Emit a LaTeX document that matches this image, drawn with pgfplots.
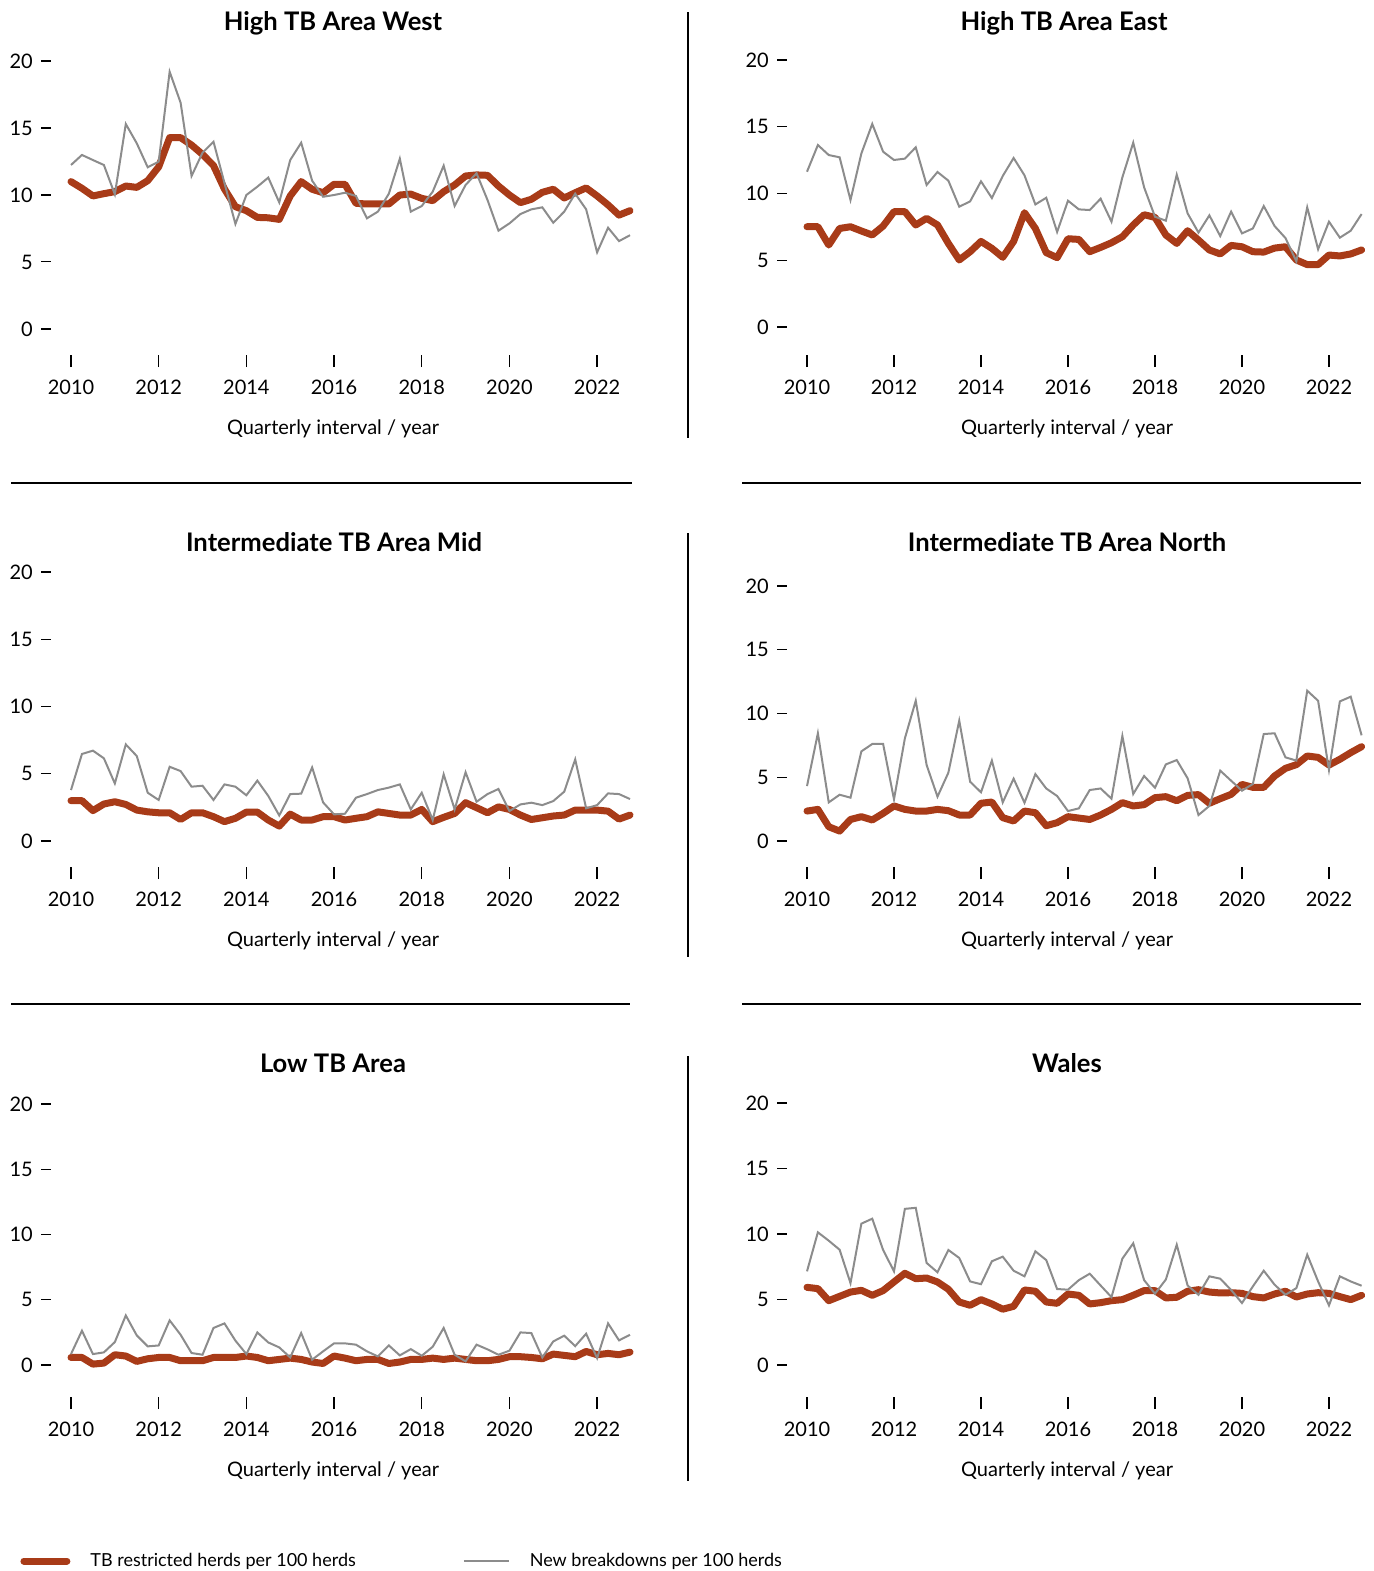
\documentclass[border=0pt]{standalone}
\usepackage{fontspec}
\setmainfont{Lato}
\usepackage{pgfplots}
\usepackage{pgfplotstable}
\pgfplotsset{compat=1.18}
\definecolor{tbred}{HTML}{A83B18}
\definecolor{tbgray}{HTML}{8C8C8C}

\pgfplotstableread{
t r g
2010.00 11.00 12.24
2010.25 10.50 12.99
2010.50 9.93 12.61
2010.75 10.10 12.24
2011.00 10.25 10.05
2011.25 10.67 15.30
2011.50 10.57 13.86
2011.75 11.07 12.07
2012.00 12.10 12.49
2012.25 14.28 19.20
2012.50 14.28 16.89
2012.75 13.73 11.42
2013.00 13.03 13.16
2013.25 12.20 13.98
2013.50 10.45 10.90
2013.75 9.13 7.84
2014.00 8.83 10.00
2014.25 8.33 10.62
2014.50 8.30 11.30
2014.75 8.18 9.45
2015.00 9.93 12.61
2015.25 11.00 13.90
2015.50 10.43 11.07
2015.75 10.17 9.87
2016.00 10.80 10.00
2016.25 10.80 10.17
2016.50 9.38 9.93
2016.75 9.33 8.26
2017.00 9.33 8.76
2017.25 9.33 10.10
2017.50 10.00 12.71
2017.75 10.07 8.76
2018.00 9.75 9.18
2018.25 9.58 10.25
2018.50 10.25 12.19
2018.75 10.75 9.18
2019.00 11.42 10.75
2019.25 11.50 11.62
2019.50 11.47 9.63
2019.75 10.67 7.34
2020.00 10.00 7.88
2020.25 9.43 8.58
2020.50 9.68 8.93
2020.75 10.20 9.08
2021.00 10.43 7.93
2021.25 9.78 8.76
2021.50 10.17 10.10
2021.75 10.53 8.93
2022.00 9.93 5.72
2022.25 9.26 7.56
2022.50 8.50 6.56
2022.75 8.83 7.00
}\West

\pgfplotstableread{
t r g
2010.00 7.51 11.63
2010.25 7.51 13.63
2010.50 6.14 12.88
2010.75 7.38 12.71
2011.00 7.51 9.51
2011.25 7.19 13.00
2011.50 6.89 15.21
2011.75 7.56 13.13
2012.00 8.64 12.51
2012.25 8.64 12.61
2012.50 7.64 13.46
2012.75 8.14 10.64
2013.00 7.64 11.61
2013.25 6.26 10.96
2013.50 5.02 9.01
2013.75 5.64 9.41
2014.00 6.41 10.91
2014.25 5.89 9.66
2014.50 5.22 11.31
2014.75 6.41 12.66
2015.00 8.56 11.36
2015.25 7.38 9.18
2015.50 5.57 9.68
2015.75 5.19 7.12
2016.00 6.61 9.46
2016.25 6.56 8.81
2016.50 5.64 8.76
2016.75 5.96 9.61
2017.00 6.31 7.89
2017.25 6.76 11.21
2017.50 7.64 13.81
2017.75 8.41 10.46
2018.00 8.21 8.26
2018.25 6.89 7.96
2018.50 6.26 11.41
2018.75 7.21 8.51
2019.00 6.51 7.07
2019.25 5.77 8.36
2019.50 5.47 6.81
2019.75 6.11 8.64
2020.00 6.01 7.01
2020.25 5.64 7.38
2020.50 5.61 9.06
2020.75 5.91 7.56
2021.00 6.01 6.66
2021.25 5.02 4.92
2021.50 4.67 8.96
2021.75 4.67 5.82
2022.00 5.39 7.89
2022.25 5.32 6.69
2022.50 5.47 7.21
2022.75 5.77 8.46
}\East

\pgfplotstableread{
t r g
2010.00 3.00 3.79
2010.25 3.00 6.47
2010.50 2.26 6.72
2010.75 2.75 6.15
2011.00 2.92 4.28
2011.25 2.72 7.18
2011.50 2.30 6.32
2011.75 2.17 3.59
2012.00 2.10 3.05
2012.25 2.10 5.52
2012.50 1.60 5.20
2012.75 2.10 4.04
2013.00 2.10 4.11
2013.25 1.81 3.05
2013.50 1.44 4.21
2013.75 1.69 4.04
2014.00 2.15 3.40
2014.25 2.15 4.49
2014.50 1.56 3.35
2014.75 1.11 1.90
2015.00 2.00 3.49
2015.25 1.56 3.52
2015.50 1.56 5.47
2015.75 1.81 2.87
2016.00 1.81 1.98
2016.25 1.56 2.03
2016.50 1.69 3.22
2016.75 1.81 3.49
2017.00 2.17 3.79
2017.25 2.05 3.97
2017.50 1.93 4.21
2017.75 1.93 2.35
2018.00 2.35 3.59
2018.25 1.44 1.56
2018.50 1.76 4.96
2018.75 2.05 2.35
2019.00 2.85 5.11
2019.25 2.48 2.92
2019.50 2.10 3.49
2019.75 2.54 3.87
2020.00 2.35 2.23
2020.25 1.93 2.72
2020.50 1.60 2.85
2020.75 1.73 2.67
2021.00 1.86 2.97
2021.25 1.93 3.67
2021.50 2.30 6.07
2021.75 2.30 2.43
2022.00 2.30 2.67
2022.25 2.22 3.54
2022.50 1.63 3.49
2022.75 1.93 3.12
}\Mid

\pgfplotstableread{
t r g
2010.00 2.35 4.31
2010.25 2.48 8.45
2010.50 1.12 3.03
2010.75 0.78 3.63
2011.00 1.69 3.40
2011.25 1.91 7.03
2011.50 1.65 7.61
2011.75 2.17 7.61
2012.00 2.75 3.27
2012.25 2.48 8.05
2012.50 2.35 11.00
2012.75 2.35 5.96
2013.00 2.48 3.48
2013.25 2.38 5.36
2013.50 2.04 9.44
2013.75 2.04 4.65
2014.00 2.96 3.82
2014.25 3.06 6.31
2014.50 1.83 3.03
2014.75 1.57 4.89
2015.00 2.35 3.00
2015.25 2.22 5.25
2015.50 1.20 4.12
2015.75 1.44 3.53
2016.00 1.91 2.35
2016.25 1.80 2.56
2016.50 1.69 4.00
2016.75 2.04 4.12
2017.00 2.48 3.32
2017.25 3.01 8.24
2017.50 2.75 3.69
2017.75 2.85 5.10
2018.00 3.40 4.18
2018.25 3.48 6.01
2018.50 3.16 6.35
2018.75 3.58 4.92
2019.00 3.64 2.04
2019.25 2.96 2.75
2019.50 3.32 5.52
2019.75 3.66 4.73
2020.00 4.44 3.95
2020.25 4.21 4.47
2020.50 4.21 8.39
2020.75 5.10 8.45
2021.00 5.70 6.56
2021.25 5.99 6.31
2021.50 6.67 11.79
2021.75 6.56 11.00
2022.00 5.96 5.57
2022.25 6.41 10.95
2022.50 6.93 11.32
2022.75 7.40 8.29
}\North

\pgfplotstableread{
t r g
2010.00 0.58 0.84
2010.25 0.58 2.63
2010.50 0.07 0.84
2010.75 0.15 0.97
2011.00 0.79 1.76
2011.25 0.69 3.80
2011.50 0.28 2.27
2011.75 0.48 1.43
2012.00 0.58 1.50
2012.25 0.58 3.42
2012.50 0.33 2.32
2012.75 0.33 0.92
2013.00 0.33 0.79
2013.25 0.58 2.84
2013.50 0.58 3.19
2013.75 0.58 1.87
2014.00 0.69 0.84
2014.25 0.58 2.50
2014.50 0.33 1.73
2014.75 0.43 1.35
2015.00 0.53 0.58
2015.25 0.43 2.45
2015.50 0.23 0.41
2015.75 0.12 1.05
2016.00 0.69 1.66
2016.25 0.53 1.66
2016.50 0.33 1.56
2016.75 0.43 1.05
2017.00 0.43 0.66
2017.25 0.12 1.50
2017.50 0.23 0.74
2017.75 0.43 1.22
2018.00 0.43 0.71
2018.25 0.53 1.40
2018.50 0.43 2.84
2018.75 0.53 0.79
2019.00 0.43 0.28
2019.25 0.33 1.56
2019.50 0.33 1.20
2019.75 0.43 0.79
2020.00 0.64 1.10
2020.25 0.64 2.50
2020.50 0.58 2.45
2020.75 0.48 0.58
2021.00 0.84 1.81
2021.25 0.74 2.25
2021.50 0.64 1.45
2021.75 1.04 2.40
2022.00 0.79 0.53
2022.25 0.89 3.19
2022.50 0.79 1.89
2022.75 0.99 2.32
}\Low

\pgfplotstableread{
t r g
2010.00 5.93 7.15
2010.25 5.83 10.13
2010.50 4.91 9.49
2010.75 5.24 8.80
2011.00 5.57 6.25
2011.25 5.70 10.79
2011.50 5.32 11.17
2011.75 5.68 8.78
2012.00 6.34 7.15
2012.25 7.00 11.92
2012.50 6.59 12.00
2012.75 6.64 7.79
2013.00 6.34 7.08
2013.25 5.78 8.78
2013.50 4.81 8.17
2013.75 4.56 6.38
2014.00 4.99 6.17
2014.25 4.66 7.92
2014.50 4.26 8.27
2014.75 4.48 7.20
2015.00 5.73 6.77
2015.25 5.63 8.68
2015.50 4.81 8.01
2015.75 4.71 5.80
2016.00 5.42 5.75
2016.25 5.32 6.48
2016.50 4.66 6.97
2016.75 4.76 6.07
2017.00 4.91 5.18
2017.25 4.99 8.12
2017.50 5.32 9.29
2017.75 5.68 6.48
2018.00 5.68 5.44
2018.25 5.12 6.53
2018.50 5.17 9.18
2018.75 5.63 6.07
2019.00 5.75 5.36
2019.25 5.57 6.77
2019.50 5.50 6.59
2019.75 5.52 5.73
2020.00 5.47 4.73
2020.25 5.22 6.00
2020.50 5.12 7.20
2020.75 5.42 6.13
2021.00 5.63 5.36
2021.25 5.19 5.87
2021.50 5.42 8.42
2021.75 5.52 6.38
2022.00 5.47 4.55
2022.25 5.22 6.77
2022.50 4.99 6.38
2022.75 5.32 6.05
}\Wales

\pgfplotsset{
  panel/.style={
    scale only axis, anchor=south west, clip=false,
    xmin=2010, xmax=2022.75, ymax=20,
    axis x line*=bottom, axis y line*=left,
    axis line style={draw=none},
    xtick={2010,2012,...,2022}, ytick={0,5,10,15,20},
    xtick align=inside, major tick length=6pt,
    xtick style={black, line width=0.7pt},
    ytick style={draw=none},
    /pgf/number format/1000 sep={},
    xticklabel={\pgfmathprintnumber[assume math mode=true]{\tick}},
    yticklabel={\pgfmathprintnumber[assume math mode=true]{\tick}\hspace{4.3pt}\rule[3.3pt]{5pt}{0.6pt}},
    ticklabel style={font=\fontsize{10}{12}\selectfont},
    xticklabel style={yshift=-3pt},
    yticklabel style={xshift=-6.3pt},
  },
  redl/.style={tbred, line width=3.5pt, line join=round, line cap=round,
    legend image code/.code={\draw[##1] (0pt,0pt) -- (21.5pt,0pt);}},
  grayl/.style={tbgray, line width=1pt,
    legend image code/.code={\draw[##1] (0pt,0pt) -- (22.5pt,0pt);}},
}

\newcommand\ttl{\fontsize{12.8}{14}\selectfont\bfseries}
\newcommand\xl{\fontsize{10}{12}\selectfont}

\begin{document}
\begin{tikzpicture}
\path[use as bounding box] (0pt,0pt) rectangle (686.5pt,-785.5pt);

% dividers
\draw[line width=0.75pt] (344pt,-6pt) -- (344pt,-219pt);
\draw[line width=0.75pt] (344pt,-266.5pt) -- (344pt,-478.5pt);
\draw[line width=0.75pt] (344pt,-528pt) -- (344pt,-740.5pt);
\draw[line width=0.75pt] (5.5pt,-241.5pt) -- (316pt,-241.5pt);
\draw[line width=0.75pt] (371pt,-241.5pt) -- (680.5pt,-241.5pt);
\draw[line width=0.75pt] (5.5pt,-502pt) -- (315pt,-502pt);
\draw[line width=0.75pt] (371pt,-502pt) -- (680.5pt,-502pt);

% titles and x labels
\node[anchor=base, font=\ttl] at (166.5pt,-15pt) {High TB Area West};
\node[anchor=base, font=\ttl] at (532pt,-15pt) {High TB Area East};
\node[anchor=base, font=\ttl] at (167pt,-275.5pt) {Intermediate TB Area Mid};
\node[anchor=base, font=\ttl] at (533.5pt,-275.5pt) {Intermediate TB Area North};
\node[anchor=base, font=\ttl] at (166.5pt,-536pt) {Low TB Area};
\node[anchor=base, font=\ttl] at (533.5pt,-536pt) {Wales};
\node[anchor=base, font=\xl] at (166.5pt,-217pt) {Quarterly interval / year};
\node[anchor=base, font=\xl] at (533.5pt,-217pt) {Quarterly interval / year};
\node[anchor=base, font=\xl] at (166.5pt,-473pt) {Quarterly interval / year};
\node[anchor=base, font=\xl] at (533.5pt,-473pt) {Quarterly interval / year};
\node[anchor=base, font=\xl] at (166.5pt,-738pt) {Quarterly interval / year};
\node[anchor=base, font=\xl] at (533.5pt,-738pt) {Quarterly interval / year};

\begin{axis}[panel, at={(35.5pt,-183.5pt)}, width=279.5pt, height=153pt, ymin=-2.836]
\addplot[redl] table[x=t,y=r] {\West};
\addplot[grayl] table[x=t,y=g] {\West};
\end{axis}

\begin{axis}[panel, at={(403.5pt,-183.5pt)}, width=277.3pt, height=153.5pt, ymin=-3.0]
\addplot[redl] table[x=t,y=r] {\East};
\addplot[grayl] table[x=t,y=g] {\East};
\end{axis}

\begin{axis}[panel, at={(35.5pt,-439.5pt)}, width=279.5pt, height=153.5pt, ymin=-2.825]
\addplot[redl] table[x=t,y=r] {\Mid};
\addplot[grayl] table[x=t,y=g] {\Mid};
\end{axis}

\begin{axis}[panel, at={(403.5pt,-439.5pt)}, width=277.3pt, height=146.5pt, ymin=-2.98]
\addplot[redl] table[x=t,y=r] {\North};
\addplot[grayl] table[x=t,y=g] {\North};
\end{axis}

\begin{axis}[panel, at={(35.5pt,-704.5pt)}, width=279.5pt, height=152.5pt, ymin=-3.37,
  legend columns=2, legend cell align=left,
  legend style={at={(axis description cs:-0.0912,-0.4983)}, anchor=west, draw=none, fill=none,
    inner sep=0pt, font=\fontsize{9}{10.5}\selectfont,
    /tikz/every even column/.append style={column sep=51.5pt},
    /tikz/every odd column/.append style={column sep=8pt}}]
\addplot[redl] table[x=t,y=r] {\Low};
\addlegendentry{TB restricted herds per 100 herds}
\addplot[grayl] table[x=t,y=g] {\Low};
\addlegendentry{New breakdowns per 100 herds}
\end{axis}

\begin{axis}[panel, at={(403.5pt,-704.5pt)}, width=277.3pt, height=153pt, ymin=-3.36]
\addplot[redl] table[x=t,y=r] {\Wales};
\addplot[grayl] table[x=t,y=g] {\Wales};
\end{axis}
\end{tikzpicture}
\end{document}
